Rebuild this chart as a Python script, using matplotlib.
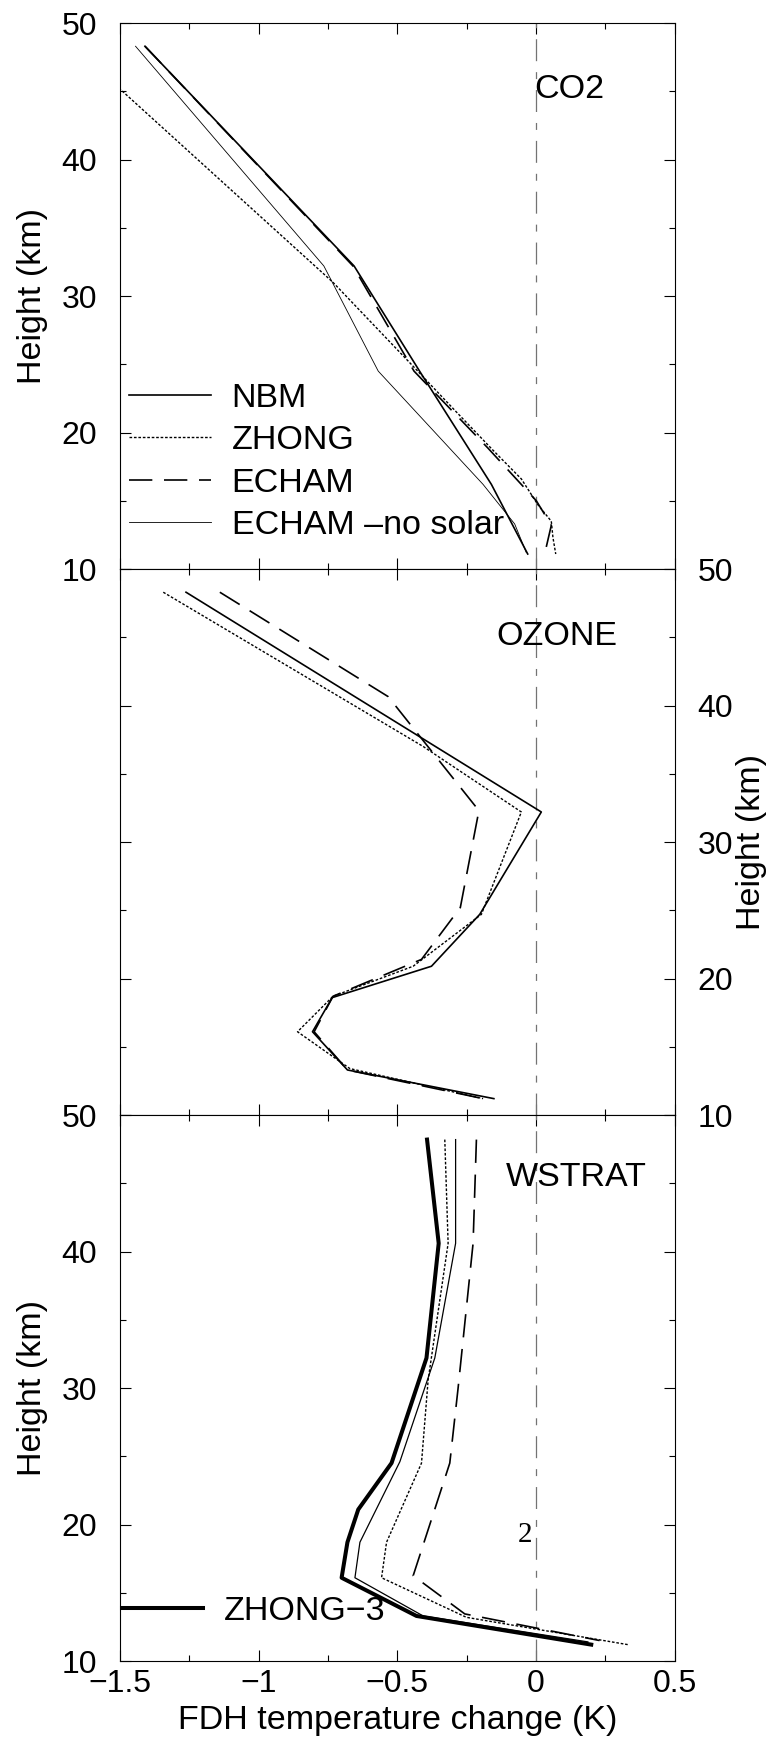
import matplotlib
matplotlib.use('Agg')
import matplotlib.pyplot as plt
from matplotlib.ticker import MultipleLocator, FuncFormatter

plt.rcParams['font.family'] = ['Liberation Sans', 'DejaVu Sans']
plt.rcParams['lines.scale_dashes'] = False
plt.rcParams['axes.linewidth'] = 0.8

# ---------------- data ----------------
# Panel 1: CO2
co2_nbm_x = [-1.41, -0.656, -0.42, -0.161, -0.03]
co2_nbm_h = [48.3, 32.2, 24.5, 16.2, 11.1]
co2_zhong_x = [-1.67, -0.732, -0.45, -0.287, -0.155, -0.053, 0.007, 0.055, 0.061, 0.071]
co2_zhong_h = [48.3, 31.0, 25.0, 21.5, 18.7, 16.6, 14.7, 13.5, 12.3, 11.1]
co2_echam_x = [-1.41, -0.66, -0.44, -0.173, 0.001, 0.055, 0.031]
co2_echam_h = [48.3, 32.2, 24.5, 18.85, 15.0, 13.2, 11.1]
co2_nosolar_x = [-1.444, -0.765, -0.569, -0.191, -0.077, -0.035]
co2_nosolar_h = [48.3, 32.2, 24.5, 16.2, 13.3, 11.2]

# Panel 2: OZONE
oz_nbm_x = [-1.262, 0.019, -0.203, -0.377, -0.735, -0.806, -0.680, -0.152]
oz_nbm_h = [48.3, 32.2, 24.7, 20.9, 18.6, 16.1, 13.3, 11.2]
oz_zhong_x = [-1.344, -0.407, -0.053, -0.197, -0.443, -0.732, -0.860, -0.671, -0.191]
oz_zhong_h = [48.3, 37.0, 32.2, 24.7, 20.9, 18.7, 16.1, 13.4, 11.2]
oz_echam_x = [-1.140, -0.533, -0.206, -0.273, -0.413, -0.732, -0.800, -0.680, -0.191]
oz_echam_h = [48.3, 40.65, 32.3, 25.2, 21.4, 18.7, 16.1, 13.3, 11.2]

# Panel 3: WSTRAT
ws_nbm_x = [-0.290, -0.290, -0.365, -0.491, -0.635, -0.653, -0.407, 0.187]
ws_nbm_h = [48.2, 40.6, 32.2, 24.6, 18.7, 16.1, 13.3, 11.4]
ws_zhong_x = [-0.329, -0.317, -0.389, -0.413, -0.539, -0.557, -0.251, 0.331]
ws_zhong_h = [48.2, 40.6, 30.6, 24.5, 18.7, 16.1, 13.2, 11.2]
ws_echam_x = [-0.215, -0.227, -0.281, -0.311, -0.443, -0.257, 0.229]
ws_echam_h = [48.2, 40.6, 30.0, 24.5, 16.25, 13.45, 11.5]
ws_zhong3_x = [-0.393, -0.351, -0.395, -0.521, -0.641, -0.680, -0.701, -0.431, 0.199]
ws_zhong3_h = [48.2, 40.6, 32.2, 24.5, 21.1, 18.7, 16.1, 13.3, 11.2]

panel_names = ['CO2', 'OZONE', 'WSTRAT']
legend_labels = ['NBM', 'ZHONG', 'ECHAM', 'ECHAM \u2013no solar']
legend3_label = 'ZHONG\u22123'
xlabel = 'FDH temperature change (K)'
ylabel = 'Height (km)'

# ---------------- styles ----------------
S_NBM = dict(color='k', lw=1.2, ls='-')
S_ZHONG = dict(color='k', lw=1.0, ls=(0, (1.9, 1.3)))
S_ECHAM = dict(color='k', lw=1.2, ls=(0, (16.8, 8.4)))
S_NOSOL = dict(color='k', lw=0.6, ls='-')
S_THICK = dict(color='k', lw=2.9, ls='-')
S_REF = dict(color='0.45', lw=0.9, ls=(0, (15.8, 7.9, 5.0, 7.9)))

fmt = FuncFormatter(lambda v, p: '{:g}'.format(v).replace('-', '\u2212'))

fig = plt.figure(figsize=(7.68, 17.46), dpi=100)
L, W, B3, H = 0.15625, 0.7223, 0.04868, 0.31271
ax1 = fig.add_axes([L, B3 + 2 * H, W, H])
ax2 = fig.add_axes([L, B3 + H, W, H])
ax3 = fig.add_axes([L, B3, W, H])

for ax in (ax1, ax2, ax3):
    ax.set_xlim(-1.5, 0.5)
    ax.set_ylim(10, 50)
    ax.xaxis.set_major_locator(MultipleLocator(0.5))
    ax.xaxis.set_minor_locator(MultipleLocator(0.25))
    ax.xaxis.set_major_formatter(fmt)
    ax.yaxis.set_major_locator(MultipleLocator(10))
    ax.yaxis.set_minor_locator(MultipleLocator(5))
    ax.tick_params(which='both', direction='in', top=True, right=True,
                   width=0.8, labelsize=23)
    ax.tick_params(which='major', length=8)
    ax.tick_params(which='minor', length=4.3)
    ax.tick_params(axis='y', pad=16.5)
    ax.tick_params(axis='x', pad=6)
    ax.axvline(0, **S_REF)

# panel 1
ax1.plot(co2_nbm_x, co2_nbm_h, **S_NBM, label=legend_labels[0])
ax1.plot(co2_zhong_x, co2_zhong_h, **S_ZHONG, label=legend_labels[1])
ax1.plot(co2_echam_x, co2_echam_h, **S_ECHAM, label=legend_labels[2])
ax1.plot(co2_nosolar_x, co2_nosolar_h, **S_NOSOL, label=legend_labels[3])
ax1.tick_params(labelbottom=False)
ax1.set_ylabel(ylabel, fontsize=24.5)
ax1.yaxis.set_label_coords(-0.13, 0.5)
ax1.text(-0.005, 44.49, panel_names[0], fontsize=24.5, ha='left', va='baseline')
ax1.legend(loc='upper left', bbox_to_anchor=(0.017, 0.341), frameon=False,
           fontsize=24.5, handlelength=2.39, handletextpad=0.61,
           labelspacing=0.335, borderpad=0, borderaxespad=0)

# panel 2
ax2.plot(oz_nbm_x, oz_nbm_h, **S_NBM)
ax2.plot(oz_zhong_x, oz_zhong_h, **S_ZHONG)
ax2.plot(oz_echam_x, oz_echam_h, **S_ECHAM)
ax2.tick_params(labelbottom=False, labelleft=False, labelright=True)
ax2.yaxis.set_label_position('right')
ax2.set_ylabel(ylabel, fontsize=24.5)
ax2.yaxis.set_label_coords(1.11, 0.5)
ax2.text(-0.142, 44.47, panel_names[1], fontsize=24.5, ha='left', va='baseline')

# panel 3
ax3.plot(ws_nbm_x, ws_nbm_h, color='k', lw=0.9)
ax3.plot(ws_zhong_x, ws_zhong_h, **S_ZHONG)
ax3.plot(ws_echam_x, ws_echam_h, **S_ECHAM)
ax3.plot(ws_zhong3_x, ws_zhong3_h, **S_THICK, label=legend3_label)
ax3.set_ylabel(ylabel, fontsize=24.5)
ax3.yaxis.set_label_coords(-0.13, 0.5)
ax3.set_xlabel(xlabel, fontsize=24.5)
ax3.xaxis.set_label_coords(0.5, -0.0805)
ax3.text(-0.041, 19.2, '2', fontsize=21, ha='center', va='center',
         family=['Liberation Serif', 'DejaVu Serif'])
ax3.text(-0.11, 44.83, panel_names[2], fontsize=24.5, ha='left', va='baseline')
ax3.legend(loc='upper left', bbox_to_anchor=(0.003, 0.119), frameon=False,
           fontsize=24.5, handlelength=2.4, handletextpad=0.61,
           borderpad=0, borderaxespad=0)

fig.savefig('out.png', dpi=100)
